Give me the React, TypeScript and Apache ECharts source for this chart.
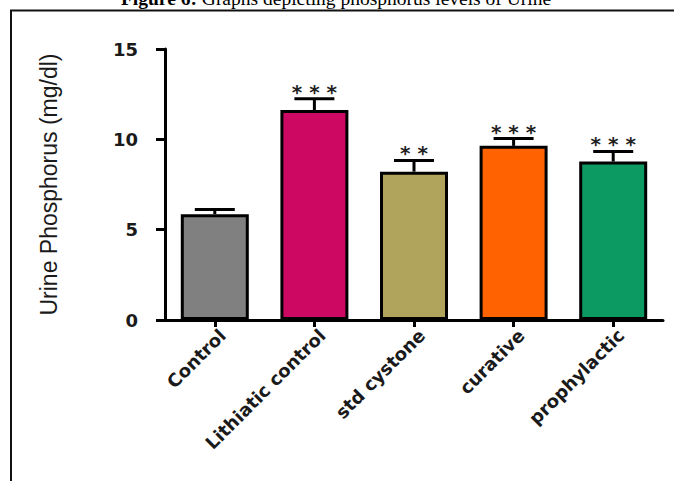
import React, { useEffect, useRef } from "react";
import * as echarts from "echarts";

// Group names along the x axis
const categories = ["Control", "Lithiatic control", "std cystone", "curative", "prophylactic"];
// Mean urine phosphorus (mg/dl) per group
const means = [5.86, 11.62, 8.21, 9.64, 8.77];
// Standard error of each mean
const errors = [0.25, 0.62, 0.62, 0.4, 0.56];
// Significance markers drawn above each error bar
const stars = ["", "* * *", "* *", "* * *", "* * *"];
// Fill colour of each bar
const barColors = ["#808080", "#CD0862", "#B0A45C", "#FF6200", "#0C9962"];
// Value-axis ticks
const yTicks = { min: 0, max: 15, interval: 5 };

export default function App() {
  const ref = useRef<HTMLDivElement>(null);

  useEffect(() => {
    if (!ref.current) return;
    const chart = echarts.init(ref.current, undefined, { renderer: "svg" });

    const option: any = {
      animation: false,
      backgroundColor: "#ffffff",
      graphic: [
        {
          type: "text",
          x: 336,
          y: -2,
          style: {
            text: "{b|Figure 6:}{n| Graphs depicting phosphorus levels of Urine}",
            align: "center",
            verticalAlign: "middle",
            fill: "#000",
            fontFamily: "Liberation Serif",
            fontSize: 19.5,
            rich: {
              b: { fontFamily: "Liberation Serif", fontSize: 19.5, fontWeight: "bold", fill: "#000" },
              n: { fontFamily: "Liberation Serif", fontSize: 19.5, fontWeight: "normal", fill: "#000" },
            },
          },
        },
        {
          type: "line",
          shape: { x1: 10, y1: 10.5, x2: 674, y2: 10.5 },
          style: { stroke: "#111", lineWidth: 2 },
        },
        {
          type: "line",
          shape: { x1: 11, y1: 10, x2: 11, y2: 481 },
          style: { stroke: "#111", lineWidth: 2 },
        },
      ],
      grid: {
        left: 165,
        right: 11,
        top: 49,
        bottom: 161,
        containLabel: false,
        outerBoundsMode: "none",
      },
      xAxis: {
        type: "category",
        data: categories,
        axisLine: { show: true, lineStyle: { color: "#000", width: 3 } },
        axisTick: { show: true, alignWithLabel: true, length: 7, lineStyle: { color: "#000", width: 3 } },
        axisLabel: {
          interval: 0,
          rotate: 45,
          margin: 20,
          color: "#1a1a1a",
          fontFamily: "DejaVu Sans",
          fontWeight: "bold",
          fontSize: 18,
          verticalAlign: "middle",
          padding: [0, -11, 0, 0],
        },
        splitLine: { show: false },
      },
      yAxis: {
        type: "value",
        min: yTicks.min,
        max: yTicks.max,
        interval: yTicks.interval,
        name: "Urine Phosphorus (mg/dl)",
        nameLocation: "middle",
        nameRotate: 90,
        nameGap: 105,
        nameTextStyle: {
          fontFamily: "Liberation Sans",
          fontSize: 23,
          fontWeight: 500,
          color: "#1a1a1a",
        },
        axisLine: { show: true, lineStyle: { color: "#000", width: 3 } },
        axisTick: { show: true, length: 9, lineStyle: { color: "#000", width: 3 } },
        axisLabel: {
          margin: 27,
          color: "#1a1a1a",
          fontFamily: "DejaVu Sans",
          fontWeight: "bold",
          fontSize: 18,
        },
        splitLine: { show: false },
      },
      series: [
        {
          type: "bar",
          barWidth: 68,
          data: means.map((v, i) => ({
            value: v,
            itemStyle: { color: barColors[i], borderColor: "#000", borderWidth: 3 },
          })),
          z: 2,
        },
        {
          type: "custom",
          z: 3,
          data: means.map((m, i) => [i, m, errors[i]]),
          encode: { x: 0, y: 1 },
          renderItem: (params: any, api: any) => {
            const idx = api.value(0);
            const mean = api.value(1);
            const err = api.value(2);
            const base = api.coord([idx, mean]);
            const top = api.coord([idx, mean + err]);
            const half = 20;
            const children: any[] = [
              {
                type: "line",
                shape: { x1: top[0], y1: base[1], x2: top[0], y2: top[1] },
                style: { stroke: "#000", lineWidth: 3 },
              },
              {
                type: "line",
                shape: { x1: top[0] - half, y1: top[1], x2: top[0] + half, y2: top[1] },
                style: { stroke: "#000", lineWidth: 3 },
              },
            ];
            const mark = stars[params.dataIndex];
            if (mark) {
              children.push({
                type: "text",
                x: top[0],
                y: top[1] - 7,
                style: {
                  text: mark,
                  align: "center",
                  verticalAlign: "middle",
                  fill: "#222",
                  fontFamily: "DejaVu Sans",
                  fontWeight: "bold",
                  fontSize: 20,
                },
              });
            }
            return { type: "group", children };
          },
        },
      ],
    };

    chart.setOption(option);
    return () => chart.dispose();
  }, []);

  return (
    <div
      ref={ref}
      style={{ position: "fixed", left: 0, top: 0, width: 674, height: 481, background: "#fff" }}
    />
  );
}
